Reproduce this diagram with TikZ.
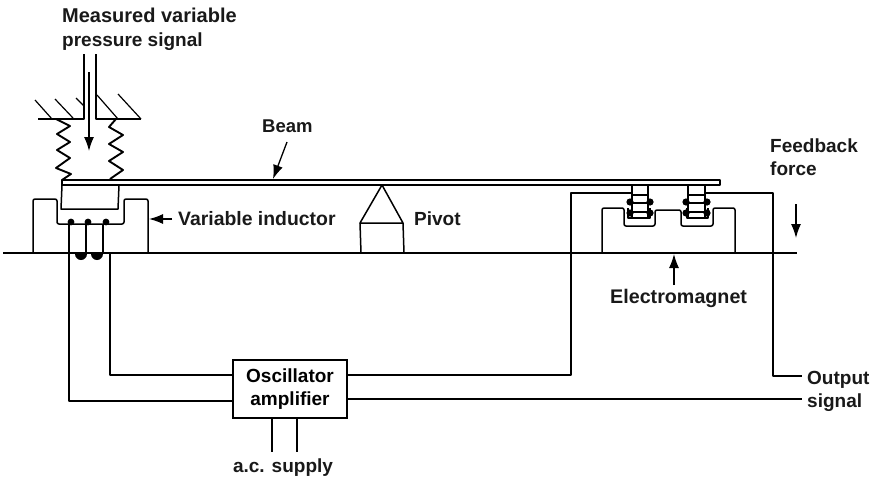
\documentclass[tikz,border=0pt]{standalone}
\usepackage{fontspec}
\setmainfont{Liberation Sans}
\usetikzlibrary{arrows.meta}
\tikzset{
  wire/.style={line width=1.5pt,line join=round},
  thinwire/.style={line width=1.2pt},
  lab/.style={font=\bfseries\fontsize{19}{20}\selectfont,inner sep=0pt,anchor=base west,text=black!90},
  ptr/.style={line width=1.3pt,-{Latex[length=14pt,width=10pt]}},
  spring/.style={line width=1.9pt,line join=round},
  blob/.style={fill=black,draw=none}
}
\begin{document}
\begin{tikzpicture}[x=1pt,y=-1pt]
\useasboundingbox (0,0) rectangle (881,479);
% labels
\node[lab,font=\bfseries\fontsize{20}{20}\selectfont] (mv) at (62,23) {Measured variable};
\node[lab] (ps) at (62,46) {pressure signal};
\node[lab,font=\bfseries\fontsize{18.5}{20}\selectfont] (beamlab) at (262,132) {Beam};
\node[lab] (fb) at (770,152) {Feedback};
\node[lab] (fo) at (770,175) {force};
\node[lab,font=\bfseries\fontsize{19.4}{20}\selectfont] (vi) at (178,225) {Variable inductor};
\node[lab] (pv) at (414,225) {Pivot};
\node[lab,font=\bfseries\fontsize{19.7}{20}\selectfont] (em) at (610,303) {Electromagnet};
\node[lab] (ou) at (807,384) {Output};
\node[lab] (si) at (807,407) {signal};
\node[lab,anchor=base] (ac) at (283,472) {a.c. supply};
% amplifier
\node[draw,line width=1.6pt,minimum width=114pt,minimum height=58pt,inner sep=0pt,
      align=center,font=\bfseries\fontsize{19}{23.5}\selectfont] (amp) at (290,389) {Oscillator\\amplifier};
% named points
\coordinate (baseL) at (3,253);
\coordinate (baseR) at (797,253);
\coordinate (wA) at (69,224);
\coordinate (wB) at (86,224);
\coordinate (wC) at (103,224);
\coordinate (beamTip) at (273,179);
\coordinate (beamFrom) at (287,142);
\coordinate (viTip) at (149,219);
\coordinate (viFrom) at (172,219);
\coordinate (emTip) at (674,254);
\coordinate (emFrom) at (674,285);
\coordinate (fbFrom) at (796,204);
\coordinate (fbTip) at (796,238);
\coordinate (sigFrom) at (89,72);
\coordinate (sigTip) at (89,151);
% ceiling
\draw[wire] (38,119) -- (84,119) -- (84,54);
\draw[wire] (96,54) -- (96,119) -- (141,119);
\foreach \a/\b/\c/\d in {35/100/52/119,55/99/73/118,76/98/84/106,97/95/118/119,118/94/141/119}
  \draw[thinwire] (\a,\b) -- (\c,\d);
\draw[ptr] (sigFrom) -- (sigTip);
% springs
\draw[spring] (56,119) -- (70,126) -- (57,134) -- (70,142) -- (57,150) -- (70,158) -- (56,168) -- (71,174) -- (62,180);
\draw[spring] (116,119) -- (109,127) -- (123,135) -- (109,144) -- (123,152) -- (109,161) -- (123,170) -- (110,179);
% beam
\draw[wire] (62,180) -- (720,180) -- (720,185) -- (62,185) -- cycle;
\draw[ptr] (beamFrom) -- (beamTip);
% base line
\draw[wire] (baseL) -- (baseR);
% sensing block
\draw[wire] (62,185) -- (61,209) -- (118,209) -- (119,185);
% variable inductor
\draw[wire,rounded corners=2pt] (33,253) -- (33,199) -- (57,199) -- (57,224) -- (124,224) -- (124,199) -- (148,199) -- (148,253);
\draw[ptr] (viFrom) -- (viTip);
\foreach \x in {71,88,106} \fill[blob] (\x,222) circle (3.4pt);
% inductor wires
\draw[wire] (wA) -- (wA |- 0,401) -- (amp.west |- 0,401);
\draw[wire] (wB) -- (86,253);
\draw[wire] (wC) -- (103,253);
\coordinate (lr) at (110,253);
\draw[wire] (lr) -- (110,375) -- (amp.west |- 0,375);
\fill[blob] (75,254) arc[start angle=180,end angle=360,x radius=6pt,y radius=6pt] -- cycle;
\fill[blob] (91,254) arc[start angle=180,end angle=360,x radius=6pt,y radius=6pt] -- cycle;
% pivot
\draw[wire] (382,185) -- (360,223) -- (403,223) -- cycle;
\draw[wire] (360,223) -- (361,253);
\draw[wire] (403,223) -- (404,253);
% electromagnet core
\draw[wire,rounded corners=2pt] (602,253) -- (602,208) -- (624,208) -- (624,226) -- (655,226) -- (655,210) -- (681,210) -- (681,226) -- (713,226) -- (713,208) -- (735,208) -- (735,253);
\draw[wire] (628,208) -- (628,218) -- (650,218) -- (650,208);
\draw[wire] (687,208) -- (687,218) -- (708,218) -- (708,208);
% coils
\foreach \l/\r in {632/648,688/705}{
  \draw[wire] (\l,185) -- (\l,218);
  \draw[wire] (\r,185) -- (\r,218);
  \foreach \y in {195,203,212} \draw[wire] (\l,\y) -- (\r,\y);
  \fill[blob] (\l-2,202) circle (3.6pt);
  \fill[blob] (\r+2,202) circle (3.6pt);
  \fill[blob] (\l-2,213) circle (3.6pt);
  \fill[blob] (\r+2,213) circle (3.6pt);
}
% output wires
\draw[wire] (amp.east |- 0,375) -- (571,375) -- (571,193) -- (632,193);
\draw[wire] (705,193) -- (773,193) -- (773,376) -- (802,376);
\draw[wire] (amp.east |- 0,399) -- (802,399);
% a.c.
\draw[wire] (272,418) -- (272,452);
\draw[wire] (297,418) -- (297,452);
\draw[ptr] (emFrom) -- (emTip);
\draw[ptr] (fbFrom) -- (fbTip);
\end{tikzpicture}
\end{document}
